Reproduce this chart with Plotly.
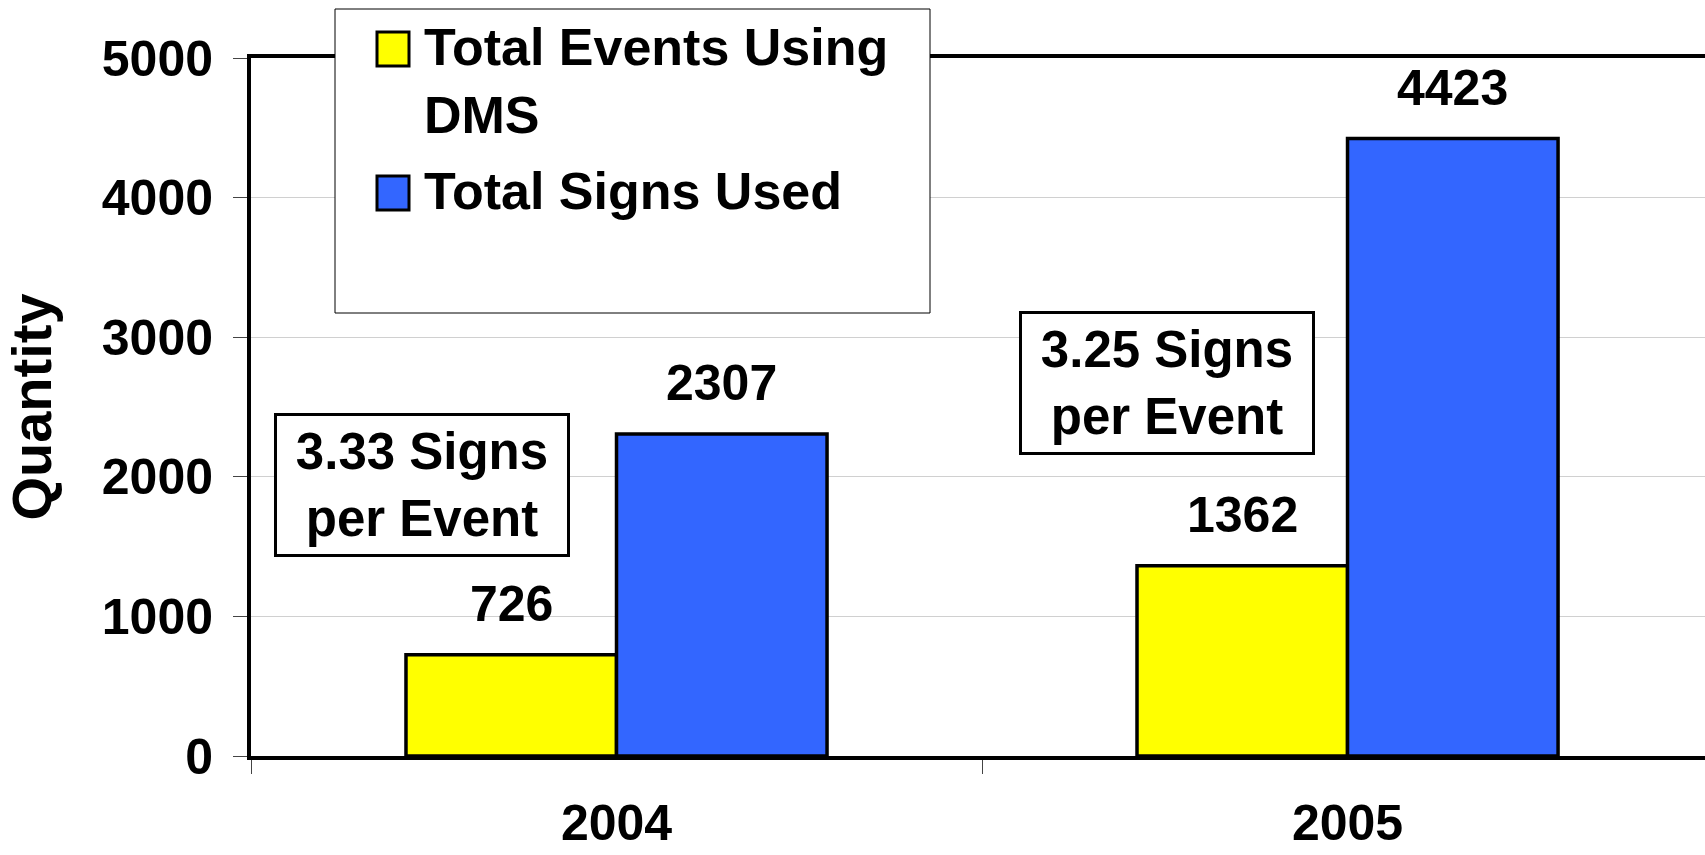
import plotly.graph_objects as go

years = ["2004", "2005"]
series_names = ["Total Events Using DMS", "Total Signs Used"]
events_dms = [726, 1362]
signs_used = [2307, 4423]
ratio_notes = ["3.33 Signs<br>per Event", "3.25 Signs<br>per Event"]
y_ticks = [0, 1000, 2000, 3000, 4000, 5000]

FONT = "Liberation Sans, Arial, sans-serif"
colors = ["#FFFF00", "#3366FF"]
BARGAP = 0.424
bar_w = (1 - BARGAP) / 2

# plot area in pixels, used to place the hand-made legend
PL, PR, PT, PB = 251, 1705, 58, 756


def px(x):
    return (x - PL) / (PR - PL)


def py(y):
    return (PB - y) / (PB - PT)


fig = go.Figure()
for name, vals, col in zip(series_names, [events_dms, signs_used], colors):
    fig.add_trace(go.Bar(x=years, y=vals, name=name, marker=dict(color=col, line=dict(color="black", width=3.5)),
                         showlegend=False))

# value labels above bars
for i in range(len(years)):
    for j, vals in enumerate([events_dms, signs_used]):
        fig.add_annotation(x=i + (j - 0.5) * bar_w, y=vals[i], text=str(vals[i]), showarrow=False,
                           yanchor="middle", yshift=51,
                           font=dict(family=FONT, size=50, color="black", weight="bold"))

# boxed notes
note_pos = [(-0.266, 1943), (0.753, 2673)]
for (nx, ny), txt in zip(note_pos, ratio_notes):
    fig.add_annotation(x=nx, y=ny, text=txt, showarrow=False, align="center", width=276, height=124,
                       borderpad=7, bordercolor="black", borderwidth=3, bgcolor="white",
                       font=dict(family=FONT, size=51, color="black", weight="bold"))

# legend drawn by hand so the swatches can be large
fig.add_shape(type="rect", xref="paper", yref="paper", x0=px(335), x1=px(930), y0=py(313), y1=py(9),
              fillcolor="white", line=dict(color="black", width=1), layer="above")
for col, cy in zip(colors, [49, 193]):
    fig.add_shape(type="rect", xref="paper", yref="paper", x0=px(377), x1=px(409), y0=py(cy + 17), y1=py(cy - 17),
                  fillcolor=col, line=dict(color="black", width=3), layer="above")
fig.add_annotation(xref="paper", yref="paper", x=px(422), y=py(81), xanchor="left", yanchor="middle", align="left",
                   text="Total Events Using<br>DMS", showarrow=False,
                   font=dict(family=FONT, size=52, color="black", weight="bold"))
fig.add_annotation(xref="paper", yref="paper", x=px(422), y=py(191), xanchor="left", yanchor="middle", align="left",
                   text=series_names[1], showarrow=False,
                   font=dict(family=FONT, size=52, color="black", weight="bold"))

fig.update_layout(width=1705, height=855, barmode="group", bargap=BARGAP, bargroupgap=0,
                  plot_bgcolor="white", paper_bgcolor="white",
                  margin=dict(l=PL, r=1705 - PR, t=PT, b=855 - PB))
fig.update_yaxes(range=[0, 5000], tickvals=y_ticks, tickformat="d", showgrid=True, gridcolor="#d0d0d0", gridwidth=1,
                 showline=True, linecolor="black", linewidth=4, ticks="outside", ticklen=14, tickcolor="#444",
                 tickwidth=1, ticklabelstandoff=10, tickfont=dict(family=FONT, size=50, color="black", weight="bold"),
                 title=dict(text="Quantity", standoff=36, font=dict(family=FONT, size=56, color="black", weight="bold")),
                 zeroline=False, automargin=False)
fig.update_xaxes(type="category", range=[-0.5, 1.489], showline=True, mirror=True, linecolor="black", linewidth=4,
                 ticks="outside", tickson="boundaries", ticklen=14, tickcolor="#444", tickwidth=1,
                 ticklabelstandoff=20, tickfont=dict(family=FONT, size=50, color="black", weight="bold"),
                 automargin=False)

# drop the default body margin so the 1705x855 figure sits flush in the window
fig.write_html("out.html", config={"displayModeBar": False}, post_script="document.body.style.margin='0';")
